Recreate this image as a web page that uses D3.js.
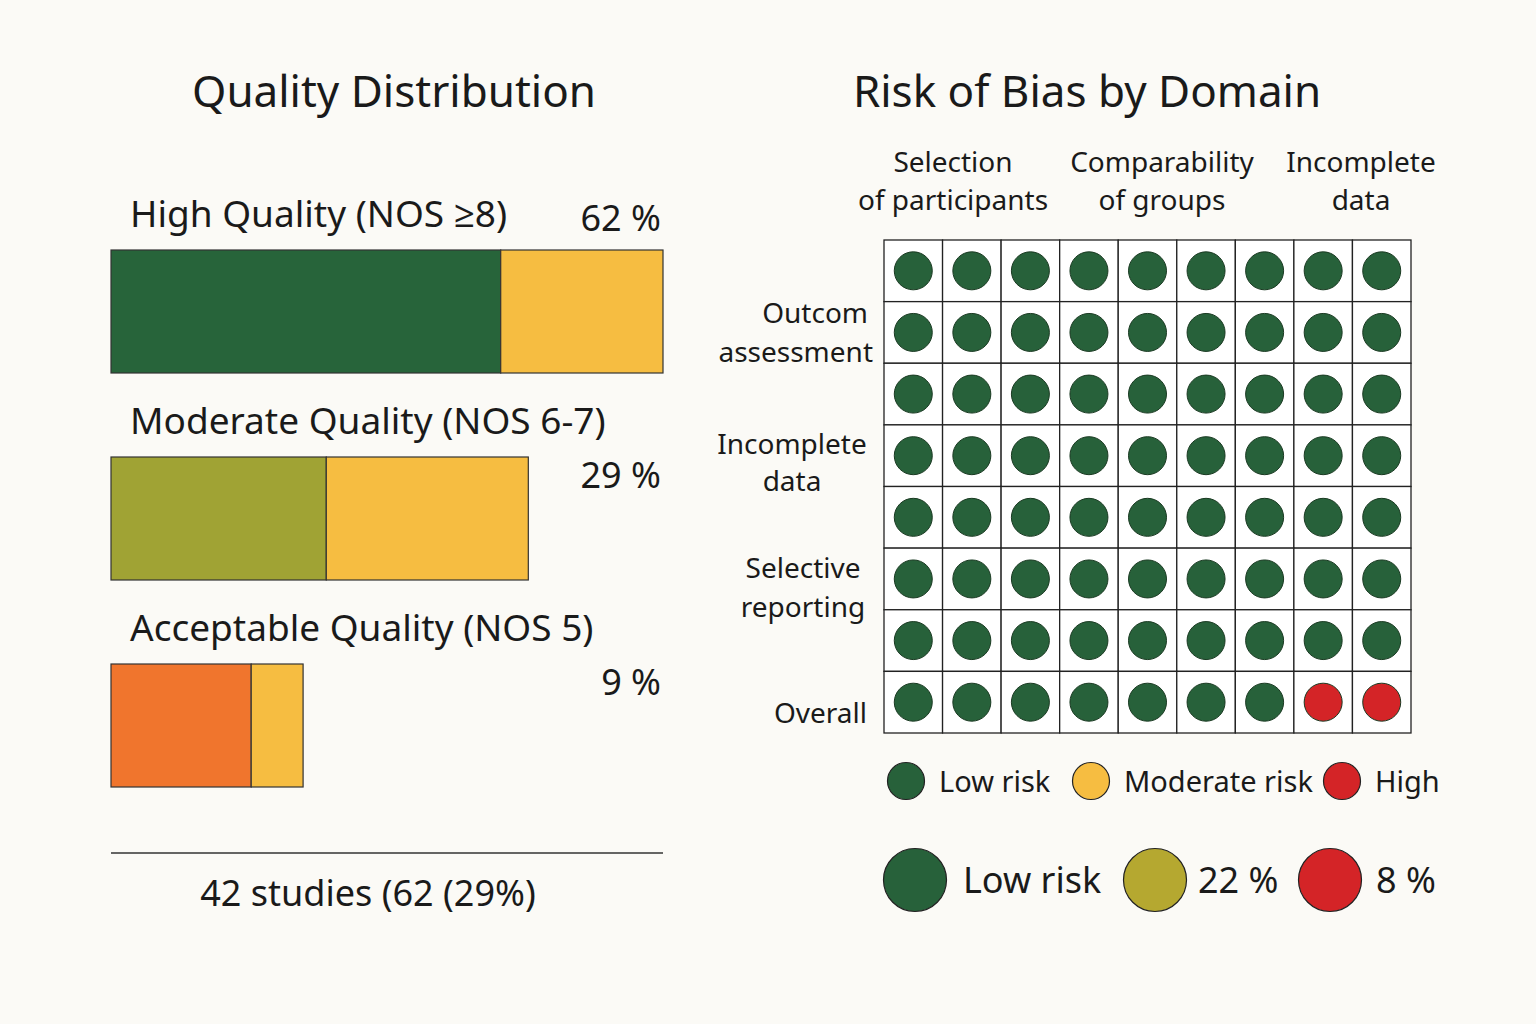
<!DOCTYPE html>
<html>
<head>
<meta charset="UTF-8">
<style>
  body { margin: 0; background: #fbfaf6; }
  svg text { font-family: "Noto Sans", "Open Sans", sans-serif; fill: #1a1a1a; }
</style>
</head>
<body>
<div id="chart"></div>
<script src="https://d3js.org/d3.v7.min.js"></script>
<script>
// ---- data ----
const qualityLabels = ["High Quality (NOS \u22658)", "Moderate Quality (NOS 6-7)", "Acceptable Quality (NOS 5)"];
const qualityPct = ["62 %", "29 %", "9 %"];
const mainSegment = [70.6, 39, 25.4];
const yellowSegment = [29.4, 36.6, 9.4];
const mainColors = ["#27643a", "#a0a334", "#f0752d"];
const footerText = "42 studies (62 (29%)";

const colHeaders = [["Selection", "of participants"], ["Comparability", "of groups"], ["Incomplete", "data"]];
const rowLabels = [["Outcom", "assessment"], ["Incomplete", "data"], ["Selective", "reporting"], ["Overall"]];
// risk grid: 8 rows x 9 columns, L = low, H = high
const riskRows = [
  "LLLLLLLLL", "LLLLLLLLL", "LLLLLLLLL", "LLLLLLLLL",
  "LLLLLLLLL", "LLLLLLLLL", "LLLLLLLLL", "LLLLLLLHH"
];
const riskColor = { L: "#27613a", M: "#f6bd41", H: "#d42427" };
const legend1 = [["Low risk", "#27613a"], ["Moderate risk", "#f6bd41"], ["High", "#d42427"]];
const legend2 = [["Low risk", "#27613a"], ["22 %", "#b5a830"], ["8 %", "#d42427"]];

const width = 1536, height = 1024;
const svg = d3.select("#chart").append("svg")
  .attr("width", width).attr("height", height);
svg.append("rect").attr("width", width).attr("height", height).attr("fill", "#fbfaf6");

// ---- left panel ----
svg.append("text").attr("x", 394).attr("y", 107).attr("text-anchor", "middle")
  .attr("font-size", 44).text("Quality Distribution");

const x = d3.scaleLinear().domain([0, 100]).range([111, 663]);
const rowTop = [250, 457, 664];
const barH = 123;

qualityLabels.forEach((lab, i) => {
  const g = svg.append("g");
  g.append("text").attr("x", 130).attr("y", rowTop[i] - 23).attr("font-size", 37).text(lab);
  g.append("text").attr("x", 661).attr("y", i === 0 ? rowTop[i] - 19 : rowTop[i] + 31)
    .attr("text-anchor", "end").attr("font-size", 36).text(qualityPct[i]);
  g.append("rect").attr("x", x(0)).attr("y", rowTop[i])
    .attr("width", x(mainSegment[i]) - x(0)).attr("height", barH)
    .attr("fill", mainColors[i]).attr("stroke", "#333").attr("stroke-width", 1.2);
  g.append("rect").attr("x", x(mainSegment[i])).attr("y", rowTop[i])
    .attr("width", x(mainSegment[i] + yellowSegment[i]) - x(mainSegment[i])).attr("height", barH)
    .attr("fill", "#f6bd41").attr("stroke", "#333").attr("stroke-width", 1.2);
});

svg.append("line").attr("x1", 111).attr("x2", 663).attr("y1", 853).attr("y2", 853)
  .attr("stroke", "#333").attr("stroke-width", 1.5);
svg.append("text").attr("x", 368).attr("y", 906).attr("text-anchor", "middle")
  .attr("font-size", 36).text(footerText);

// ---- right panel ----
svg.append("text").attr("x", 1087).attr("y", 107).attr("text-anchor", "middle")
  .attr("font-size", 44).text("Risk of Bias by Domain");

const gx = d3.scaleBand().domain(d3.range(9)).range([884, 1411]);
const gy = d3.scaleBand().domain(d3.range(8)).range([240, 733]);

const grid = svg.append("g");
riskRows.forEach((row, r) => {
  row.split("").forEach((v, c) => {
    grid.append("rect").attr("x", gx(c)).attr("y", gy(r))
      .attr("width", gx.bandwidth()).attr("height", gy.bandwidth())
      .attr("fill", "#fff").attr("stroke", "#222").attr("stroke-width", 1.3);
    grid.append("circle").attr("cx", gx(c) + gx.bandwidth() / 2).attr("cy", gy(r) + gy.bandwidth() / 2)
      .attr("r", 19).attr("fill", riskColor[v]).attr("stroke", "#1a3a22").attr("stroke-width", 1);
  });
});

const colX = [953, 1162, 1361];
colHeaders.forEach((lines, i) => {
  lines.forEach((t, j) => {
    svg.append("text").attr("x", colX[i]).attr("y", 172 + j * 38).attr("text-anchor", "middle")
      .attr("font-size", 28).text(t);
  });
});

const rowPos = [[873, 323, "end", 352 - 313], [792, 454, "middle", 37], [803, 578, "middle", 39], [867, 723, "end", 0]];
rowLabels.forEach((lines, i) => {
  const [px, py, anchor, gap] = rowPos[i];
  lines.forEach((t, j) => {
    svg.append("text").attr("x", px).attr("y", py + j * gap).attr("text-anchor", anchor)
      .attr("font-size", 28).text(t);
  });
});
// align "Outcom" to right like reference
svg.selectAll("text").filter(function () { return this.textContent === "Outcom"; }).attr("x", 868);

const l1cx = [906, 1091, 1342];
legend1.forEach(([t, col], i) => {
  svg.append("circle").attr("cx", l1cx[i]).attr("cy", 781).attr("r", 18.5)
    .attr("fill", col).attr("stroke", "#222").attr("stroke-width", 1.2);
  svg.append("text").attr("x", l1cx[i] + 33).attr("y", 792).attr("font-size", 29).text(t);
});

const l2cx = [915, 1155, 1330];
const l2tx = [963, 1198, 1376];
legend2.forEach(([t, col], i) => {
  svg.append("circle").attr("cx", l2cx[i]).attr("cy", 880).attr("r", 31.5)
    .attr("fill", col).attr("stroke", "#222").attr("stroke-width", 1.2);
  svg.append("text").attr("x", l2tx[i]).attr("y", 893).attr("font-size", 36).text(t);
});
</script>
</body>
</html>
